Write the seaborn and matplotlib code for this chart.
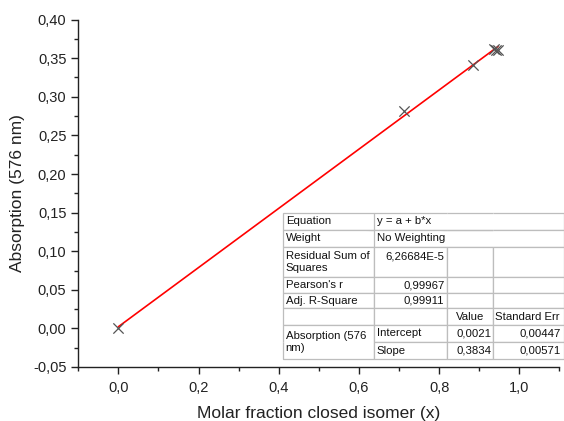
import numpy as np
import pandas as pd
import matplotlib
matplotlib.use("Agg")
import matplotlib.pyplot as plt
from matplotlib.ticker import FuncFormatter, MultipleLocator
import seaborn as sns

# ---- data ----
molar_fraction = [0.0, 0.713, 0.884, 0.937, 0.942, 0.947]
absorption = [0.0, 0.281, 0.341, 0.362, 0.360, 0.361]
fit_intercept = 0.0021
fit_slope = 0.3834

x_ticks = [0.0, 0.2, 0.4, 0.6, 0.8, 1.0]
y_ticks = [-0.05, 0.0, 0.05, 0.10, 0.15, 0.20, 0.25, 0.30, 0.35, 0.40]

table_rows = [
    ["Equation", "y = a + b*x", "", ""],
    ["Weight", "No Weighting", "", ""],
    ["Residual Sum of\nSquares", "6,26684E-5\n ", "", ""],
    ["Pearson's r", "0,99967", "", ""],
    ["Adj. R-Square", "0,99911", "", ""],
    ["", "", "Value", "Standard Err"],
    ["", "Intercept", "0,0021", "0,00447"],
    ["", "Slope", "0,3834", "0,00571"],
]
merged_label = "Absorption (576\nnm)"

sns.set_style("ticks")
plt.rcParams["font.family"] = ["Liberation Sans", "DejaVu Sans"]

fig = plt.figure(figsize=(5.64, 4.21), dpi=100)
ax = fig.add_axes([78.2 / 564, 1 - 367 / 421, 481.2 / 564, (367 - 19.6) / 421])

df = pd.DataFrame({"x": molar_fraction, "y": absorption})
fit_x = np.array([min(molar_fraction), max(molar_fraction)])
fit_df = pd.DataFrame({"x": fit_x, "y": fit_intercept + fit_slope * fit_x})

sns.lineplot(data=fit_df, x="x", y="y", color="red", linewidth=1.2, ax=ax, zorder=2)
sns.scatterplot(data=df, x="x", y="y", marker="x", color="#555555", s=55,
                linewidth=0.9, ax=ax, zorder=3)

ax.set_xlim(-0.1, 1.1)
ax.set_ylim(-0.05, 0.40)
ax.set_xticks(x_ticks)
ax.set_yticks(y_ticks)
ax.xaxis.set_minor_locator(MultipleLocator(0.1))
ax.yaxis.set_minor_locator(MultipleLocator(0.025))
ax.xaxis.set_major_formatter(FuncFormatter(lambda v, p: f"{v:.1f}".replace(".", ",").replace("-0,0", "0,0")))
ax.yaxis.set_major_formatter(FuncFormatter(lambda v, p: (f"{v:.2f}".replace(".", ",")) if abs(v) > 1e-9 else "0,00"))
ax.tick_params(which="major", length=5, width=1, labelsize=10.5, colors="#222222", direction="out")
ax.tick_params(which="minor", length=3, width=1, colors="#222222", direction="out")
ax.tick_params(axis="x", pad=5)
for s in ["top", "right"]:
    ax.spines[s].set_visible(False)
for s in ["left", "bottom"]:
    ax.spines[s].set_color("#222222")
    ax.spines[s].set_linewidth(1.0)

ax.set_xlabel("Molar fraction closed isomer (x)", fontsize=12.5, color="#222222", labelpad=8)
ax.set_ylabel("Absorption (576 nm)", fontsize=12.5, color="#222222", labelpad=6)

# ---- table ----
ax_w_px = 481.2
ax_h_px = 347.4
x0_px, y_top_px, y_bot_px = 282.5, 213.0, 359.0
col_px = [91.5, 73.0, 46.0, 70.5]
row_px = [17, 17, 30, 16, 15, 17, 17, 17]
tb_x = (x0_px - 78.2) / ax_w_px
tb_w = sum(col_px) / ax_w_px
tb_b = (367 - y_bot_px) / ax_h_px
tb_h = (y_bot_px - y_top_px) / ax_h_px

tbl = ax.table(cellText=table_rows, colWidths=[c / sum(col_px) for c in col_px],
               bbox=[tb_x, tb_b, tb_w, tb_h], cellLoc="left", zorder=5)
tbl.auto_set_font_size(False)
tbl.set_fontsize(8.2)

right_cells = {(2, 1), (3, 1), (4, 1), (6, 2), (6, 3), (7, 2), (7, 3)}
center_cells = {(5, 2)}
edge_color = "#bdbdbd"
for (r, c), cell in tbl.get_celld().items():
    cell.set_height(row_px[r])
    cell.set_edgecolor(edge_color)
    cell.set_linewidth(0.9)
    cell.PAD = 0.035
    cell.get_text().set_color("#111111")
    if (r, c) in right_cells:
        cell._loc = "right"
        cell.get_text().set_ha("right")
    elif (r, c) in center_cells:
        cell._loc = "center"
        cell.get_text().set_ha("center")
    # merges
    if r in (0, 1):
        cell.visible_edges = {0: "BTL", 1: "BTL", 2: "BT", 3: "BTR"}[c]
    if c == 0 and r == 6:
        cell.visible_edges = "TLR"
    if c == 0 and r == 7:
        cell.visible_edges = "BLR"

# merged-cell label
y_merge = (367 - (y_bot_px - 17)) / ax_h_px
ax.text(tb_x + 0.035 * col_px[0] / ax_w_px, y_merge, merged_label,
        transform=ax.transAxes, fontsize=8.2, color="#111111",
        ha="left", va="center", zorder=6, linespacing=1.35)

fig.savefig("out.png", dpi=100)
